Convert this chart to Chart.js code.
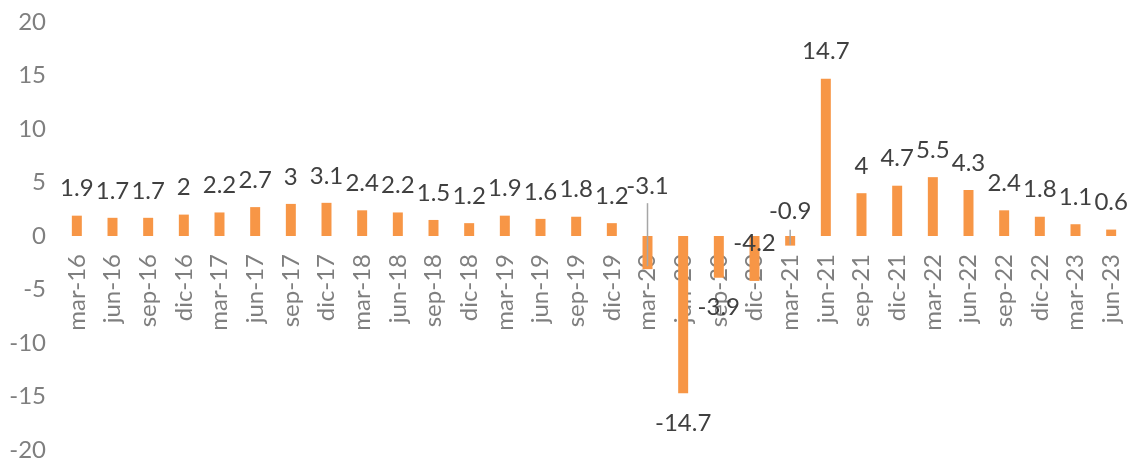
<!DOCTYPE html>
<html>
<head>
<meta charset="utf-8">
<script src="https://cdn.jsdelivr.net/npm/chart.js@4"></script>
<style>
  html, body { margin: 0; padding: 0; background: #fff; }
  #wrap { width: 1130px; height: 462px; position: relative; }
</style>
</head>
<body>
<div id="wrap"><canvas id="chart"></canvas></div>
<script>
const quarters = ['mar-16','jun-16','sep-16','dic-16','mar-17','jun-17','sep-17','dic-17',
  'mar-18','jun-18','sep-18','dic-18','mar-19','jun-19','sep-19','dic-19',
  'mar-20','jun-20','sep-20','dic-20','mar-21','jun-21','sep-21','dic-21',
  'mar-22','jun-22','sep-22','dic-22','mar-23','jun-23'];
const growth = [1.9,1.7,1.7,2,2.2,2.7,3,3.1,2.4,2.2,1.5,1.2,1.9,1.6,1.8,1.2,
  -3.1,-14.7,-3.9,-4.2,-0.9,14.7,4,4.7,5.5,4.3,2.4,1.8,1.1,0.6];
const yTicks = [-20,-15,-10,-5,0,5,10,15,20];

const FONT = 'Lato, "Open Sans", sans-serif';

// labels that were dragged around in the original, with leader lines
const moved = {
  16: { dy: -83, line: [-66, -3] },
  19: { dy: -38 },
  20: { dy: -34, line: [-16, -1] },
};

const valueLabels = {
  id: 'valueLabels',
  afterDatasetsDraw(chart) {
    const ctx = chart.ctx;
    const meta = chart.getDatasetMeta(0);
    const y = chart.scales.y;
    ctx.save();
    ctx.font = '24px ' + FONT;
    ctx.fillStyle = '#404040';
    ctx.textAlign = 'center';
    ctx.textBaseline = 'middle';
    meta.data.forEach((bar, i) => {
      const v = growth[i];
      const py = y.getPixelForValue(v);
      let dy = v >= 0 ? -27 : 30;
      const m = moved[i];
      if (m) {
        dy = m.dy;
        if (m.line) {
          ctx.strokeStyle = '#a6a6a6';
          ctx.lineWidth = 1.5;
          ctx.beginPath();
          ctx.moveTo(bar.x, py + m.line[0]);
          ctx.lineTo(bar.x, py + m.line[1]);
          ctx.stroke();
        }
      }
      ctx.fillText(String(v), bar.x, py + dy);
    });
    ctx.restore();
  }
};

new Chart(document.getElementById('chart'), {
  type: 'bar',
  data: {
    labels: quarters,
    datasets: [{
      data: growth,
      backgroundColor: '#f79646',
      borderWidth: 0,
      barPercentage: 0.56,
      categoryPercentage: 0.5,
    }],
  },
  options: {
    responsive: true, maintainAspectRatio: false, animation: false,
    layout: { padding: { top: 22, bottom: 12, left: 0, right: 1 } },
    plugins: { legend: { display: false }, tooltip: { enabled: false } },
    scales: {
      x: {
        position: { y: 0 },
        afterFit(s) {
          s.paddingLeft = 0; s.paddingRight = 0;
          s.paddingTop = 0; s.paddingBottom = 0;
        },
        grid: { display: false, drawTicks: false },
        border: { display: false },
        ticks: {
          color: '#7f7f7f', font: { family: FONT, size: 24 },
          minRotation: 90, maxRotation: 90, padding: 18, autoSkip: false,
        },
      },
      y: {
        min: -20, max: 20,
        afterFit(s) { s.width = 59; s.paddingTop = 0; s.paddingBottom = 0; },
        afterBuildTicks(s) { s.ticks = yTicks.map(v => ({ value: v })); },
        grid: { display: false, drawTicks: false },
        border: { display: false },
        ticks: { color: '#7f7f7f', font: { family: FONT, size: 24 }, padding: 13 },
      },
    },
  },
  plugins: [valueLabels],
});
</script>
</body>
</html>
